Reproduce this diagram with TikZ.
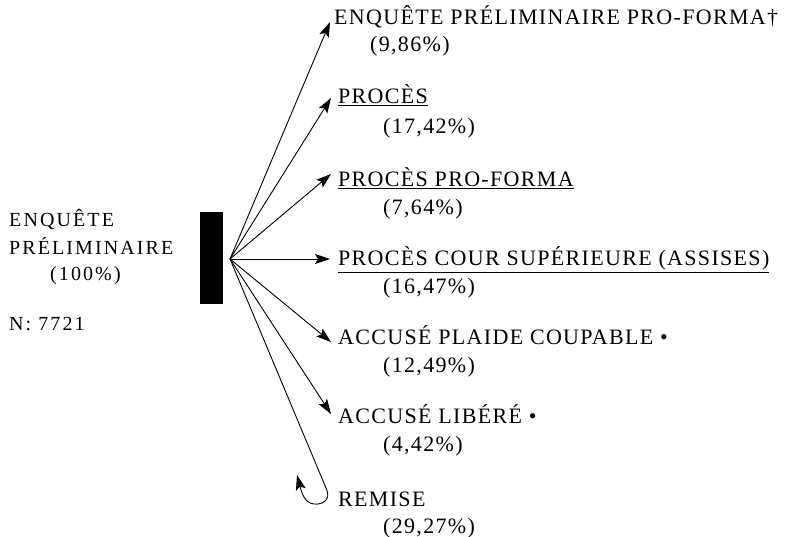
\documentclass[tikz,border=0pt]{standalone}
\usepackage{fontspec}
\setmainfont{Liberation Serif}[LetterSpace=6]
\newfontfamily\widefont{Liberation Serif}[LetterSpace=10.5]
\usetikzlibrary{arrows.meta}
\begin{document}
\begin{tikzpicture}[x=1pt,y=-1pt,
  lbl/.style={anchor=base west,inner sep=0pt,font=\fontsize{22}{26}\selectfont},
  src/.style={anchor=base west,inner sep=0pt,font=\widefont\fontsize{20}{24}\selectfont},
  flow/.style={line width=0.9pt,-{Stealth[length=15pt,width=10pt,inset=3pt]}}]
\useasboundingbox (0,0) rectangle (788,537);
% source block
\fill (200,212) rectangle (223,304);
\coordinate (hub) at (230,259);
% left labels
\node[src] (s1) at (9,227) {ENQUÊTE};
\node[src] (s2) at (9,255) {PRÉLIMINAIRE};
\node[src] (s3) at (50,281) {(100\%)};
\node[src] (s4) at (9,331) {N: 7721};
% outcome labels
\node[lbl] (a) at (334,25) {ENQUÊTE PRÉLIMINAIRE PRO-FORMA\textdagger};
\node[lbl] (ap) at (370,52) {(9,86\%)};
\node[lbl] (b) at (338,104) {\underline{PROCÈS}};
\node[lbl] (bp) at (383,134) {(17,42\%)};
\node[lbl] (c) at (338,187) {\underline{PROCÈS PRO-FORMA}};
\node[lbl] (cp) at (383,215) {(7,64\%)};
\node[lbl] (d) at (338,266) {\underline{PROCÈS COUR SUPÉRIEURE (ASSISES)}};
\node[lbl] (dp) at (383,294) {(16,47\%)};
\node[lbl] (e) at (338,345) {ACCUSÉ PLAIDE COUPABLE •};
\node[lbl] (ep) at (383,373) {(12,49\%)};
\node[lbl] (f) at (338,424) {ACCUSÉ LIBÉRÉ •};
\node[lbl] (fp) at (383,452) {(4,42\%)};
\node[lbl] (g) at (338,507) {REMISE};
\node[lbl] (gp) at (383,533) {(29,27\%)};
% arrow end points
\coordinate (ta) at (330,22);
\coordinate (tb) at (331,98);
\coordinate (tc) at (331,174);
\coordinate (td) at (330,259);
\coordinate (te) at (331,342);
\coordinate (tf) at (331,414);
\coordinate (tg) at (297,475);
% connectors
\draw[flow] (hub) -- (ta);
\draw[flow] (hub) -- (tb);
\draw[flow] (hub) -- (tc);
\draw[flow] (hub) -- (td);
\draw[flow] (hub) -- (te);
\draw[flow] (hub) -- (tf);
\draw[flow] (hub) -- (326,488) .. controls (332,500) and (322,505) .. (314,504)
  .. controls (305,503) and (302,494) .. (tg);
\end{tikzpicture}
\end{document}
